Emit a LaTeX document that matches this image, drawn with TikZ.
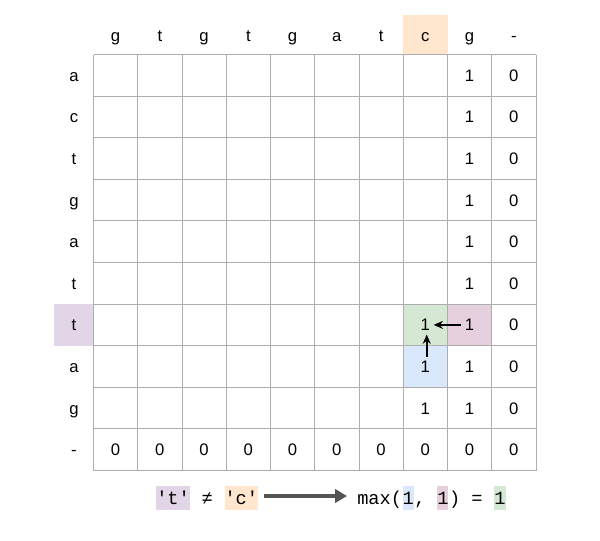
\documentclass[tikz,border=0pt]{standalone}
\usepackage{fontspec}
\setmainfont{Liberation Sans}
\newfontfamily\monof{Liberation Mono}
\usetikzlibrary{arrows.meta}
\definecolor{gridc}{HTML}{ADADAD}
\definecolor{cOrange}{HTML}{FFE6CC}
\definecolor{cPurple}{HTML}{E1D5E7}
\definecolor{cGreen}{HTML}{D5E8D4}
\definecolor{cBlue}{HTML}{DAE8FC}
\definecolor{cPink}{HTML}{E6D0DE}
\definecolor{arrowgray}{HTML}{555555}
\begin{document}
\begin{tikzpicture}[x=0.75pt,y=-0.75pt,
  lab/.style={inner sep=0pt, text height=9pt, text depth=0pt, font=\fontsize{12.5pt}{15pt}\selectfont},
  val/.style={lab, inner xsep=2.5pt, inner ysep=2.5pt},
  gridline/.style={draw=gridc, line width=0.75pt},
  ft/.style={inner sep=0pt, text height=13.5pt, text depth=4.5pt, font=\monof\fontsize{14pt}{16pt}\selectfont, anchor=base west},
  backarrow/.style={-{Stealth[length=7pt,width=6pt]}, line width=1.7pt, black},
  bigarrow/.style={-{Triangle[length=9pt,width=10pt]}, line width=3.2pt, arrowgray}]
\useasboundingbox (0,0) rectangle (600,540);
\def\X{93.5}\def\W{44.25}\def\Y{54.5}\def\H{41.6}
% highlighted header / label cells
\fill[cOrange] ({\X+7*\W},15) rectangle ({\X+8*\W},\Y);
\fill[cPurple] (54,{\Y+6*\H}) rectangle (\X,{\Y+7*\H});
% highlighted grid cells
\fill[cGreen] ({\X+7*\W},{\Y+6*\H}) rectangle ({\X+8*\W},{\Y+7*\H});
\fill[cPink] ({\X+8*\W},{\Y+6*\H}) rectangle ({\X+9*\W},{\Y+7*\H});
\fill[cBlue] ({\X+7*\W},{\Y+7*\H}) rectangle ({\X+8*\W},{\Y+8*\H});
% grid
\foreach \k in {0,...,10} {
  \draw[gridline] ({\X+\k*\W},\Y) -- ({\X+\k*\W},{\Y+10*\H});
  \draw[gridline] (\X,{\Y+\k*\H}) -- ({\X+10*\W},{\Y+\k*\H});
}
% headers
\foreach \c [count=\i from 0] in {g,t,g,t,g,a,t,c,g,-}
  \node[lab] (h-\i) at ({\X+(\i+0.5)*\W},35) {\c};
\foreach \c [count=\j from 0] in {a,c,t,g,a,t,t,a,g,-}
  \node[lab] (r-\j) at (74,{\Y+(\j+0.5)*\H}) {\c};
% values
\foreach \j in {0,...,8} {
  \node[val] (v-8-\j) at ({\X+8.5*\W},{\Y+(\j+0.5)*\H}) {1};
  \node[val] (v-9-\j) at ({\X+9.5*\W},{\Y+(\j+0.5)*\H}) {0};
}
\foreach \j in {6,7,8}
  \node[val] (v-7-\j) at ({\X+7.5*\W},{\Y+(\j+0.5)*\H}) {1};
\foreach \i in {0,...,9}
  \node[val] (v-\i-9) at ({\X+(\i+0.5)*\W},{\Y+9.5*\H}) {0};
% traceback arrows
\draw[backarrow] (v-8-6.west) -- (v-7-6.east);
\draw[backarrow] ([xshift=1pt]v-7-7.north) -- ([xshift=1pt]v-7-6.south);
% formula
\node[ft, fill=cPurple] (f1) at (156,504) {\textquotesingle t\textquotesingle};
\node[ft] (f2) at (f1.base east) {\ ≠\ \mbox{}};
\node[ft, fill=cOrange] (f3) at (f2.base east) {\textquotesingle c\textquotesingle};
\node[ft] (m1) at (357,504) {max(};
\node[ft, fill=cBlue] (m2) at (m1.base east) {1};
\node[ft] (m3) at (m2.base east) {,\ \mbox{}};
\node[ft, fill=cPink] (m4) at (m3.base east) {1};
\node[ft] (m5) at (m4.base east) {)\ =\ \mbox{}};
\node[ft, fill=cGreen] (m6) at (m5.base east) {1};
\draw[bigarrow, shorten <=4.5pt, shorten >=7.5pt] ([yshift=1.5pt]f3.east) -- ([yshift=1.5pt]m1.west);
\end{tikzpicture}
\end{document}
